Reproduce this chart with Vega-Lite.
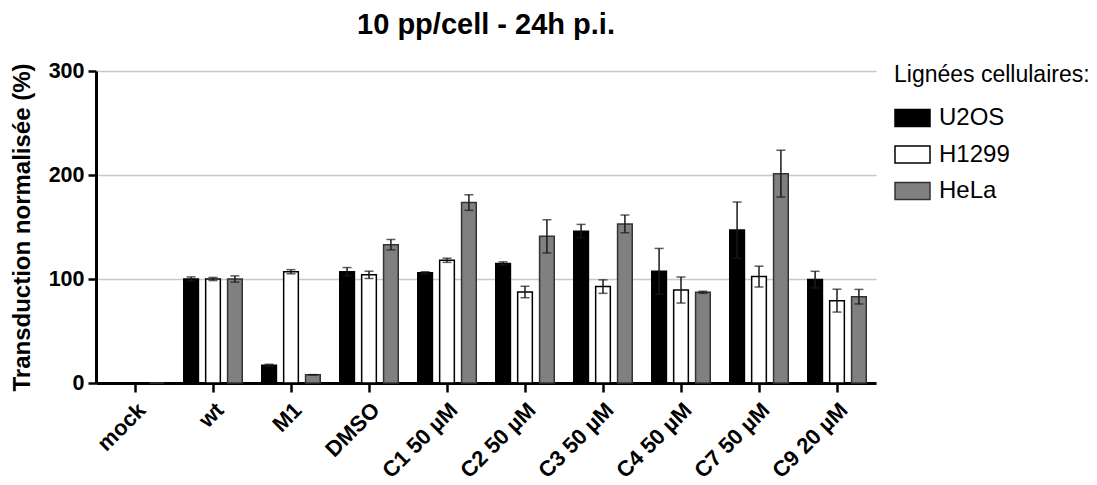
{
  "$schema": "https://vega.github.io/schema/vega-lite/v6.json",
  "autosize": {"type": "none"},
  "width": 780,
  "height": 312,
  "padding": {"left": 96, "top": 71, "right": 221, "bottom": 102},
  "background": "white",
  "title": {"text": "10 pp/cell - 24h p.i.", "font": "Liberation Sans", "fontSize": 29, "fontWeight": "bold", "color": "#000", "anchor": "middle", "offset": 20},
  "config": {"view": {"stroke": null}, "font": "Liberation Sans"},
  "data": {"values": [
    {"cond": "mock", "line": "U2OS", "value": 0, "lo": 0, "hi": 0},
    {"cond": "mock", "line": "H1299", "value": 0, "lo": 0, "hi": 0},
    {"cond": "mock", "line": "HeLa", "value": 0, "lo": 0, "hi": 0},
    {"cond": "wt", "line": "U2OS", "value": 100, "lo": 98, "hi": 102},
    {"cond": "wt", "line": "H1299", "value": 100, "lo": 98.5, "hi": 101.5},
    {"cond": "wt", "line": "HeLa", "value": 100, "lo": 97, "hi": 103},
    {"cond": "M1", "line": "U2OS", "value": 17, "lo": 16, "hi": 18},
    {"cond": "M1", "line": "H1299", "value": 107, "lo": 105, "hi": 109},
    {"cond": "M1", "line": "HeLa", "value": 8, "lo": 8, "hi": 8},
    {"cond": "DMSO", "line": "U2OS", "value": 107, "lo": 103, "hi": 111},
    {"cond": "DMSO", "line": "H1299", "value": 104, "lo": 100.5, "hi": 107.5},
    {"cond": "DMSO", "line": "HeLa", "value": 133, "lo": 128, "hi": 138},
    {"cond": "C1 50 µM", "line": "U2OS", "value": 106, "lo": 105, "hi": 107},
    {"cond": "C1 50 µM", "line": "H1299", "value": 118, "lo": 116, "hi": 120},
    {"cond": "C1 50 µM", "line": "HeLa", "value": 173.5, "lo": 166, "hi": 181},
    {"cond": "C2 50 µM", "line": "U2OS", "value": 115, "lo": 113.5, "hi": 116.5},
    {"cond": "C2 50 µM", "line": "H1299", "value": 87.5, "lo": 82, "hi": 93},
    {"cond": "C2 50 µM", "line": "HeLa", "value": 141, "lo": 125, "hi": 157},
    {"cond": "C3 50 µM", "line": "U2OS", "value": 146, "lo": 139.5, "hi": 152.5},
    {"cond": "C3 50 µM", "line": "H1299", "value": 92.7, "lo": 86.2, "hi": 99.2},
    {"cond": "C3 50 µM", "line": "HeLa", "value": 153, "lo": 144.5, "hi": 161.5},
    {"cond": "C4 50 µM", "line": "U2OS", "value": 107.4, "lo": 85.4, "hi": 129.4},
    {"cond": "C4 50 µM", "line": "H1299", "value": 89.4, "lo": 76.9, "hi": 101.9},
    {"cond": "C4 50 µM", "line": "HeLa", "value": 87.2, "lo": 86.2, "hi": 88.2},
    {"cond": "C7 50 µM", "line": "U2OS", "value": 147, "lo": 120, "hi": 174},
    {"cond": "C7 50 µM", "line": "H1299", "value": 102.3, "lo": 92.3, "hi": 112.3},
    {"cond": "C7 50 µM", "line": "HeLa", "value": 201.3, "lo": 178.8, "hi": 223.8},
    {"cond": "C9 20 µM", "line": "U2OS", "value": 99.4, "lo": 91.4, "hi": 107.4},
    {"cond": "C9 20 µM", "line": "H1299", "value": 79.2, "lo": 68.2, "hi": 90.2},
    {"cond": "C9 20 µM", "line": "HeLa", "value": 83, "lo": 76, "hi": 90}
  ]},
  "encoding": {
    "x": {"field": "cond", "type": "nominal", "sort": null,
      "scale": {"domain": ["mock", "wt", "M1", "DMSO", "C1 50 µM", "C2 50 µM", "C3 50 µM", "C4 50 µM", "C7 50 µM", "C9 20 µM"], "paddingInner": 0.25, "paddingOuter": 0.125},
      "axis": {"title": null, "labelAngle": -45, "labelFont": "Liberation Sans", "labelFontSize": 22, "labelFontWeight": "bold", "labelColor": "#000", "domainColor": "#000", "domainWidth": 3, "tickColor": "#000", "tickWidth": 2.5, "tickSize": 9, "labelPadding": 7, "labelDx": -5, "labelDy": 0, "grid": false}},
    "xOffset": {"field": "line", "type": "nominal", "sort": ["U2OS", "H1299", "HeLa"], "scale": {"paddingInner": 0.33, "paddingOuter": 0}}
  },
  "layer": [
    {
      "mark": {"type": "bar", "strokeWidth": 1.5},
      "encoding": {
        "y": {"field": "value", "type": "quantitative",
          "scale": {"domain": [0, 300], "nice": false},
          "axis": {"title": "Transduction normalisée (%)", "titleFont": "Liberation Sans", "titleFontSize": 24, "titleFontWeight": "bold", "titleColor": "#000", "titlePadding": 14, "values": [0, 100, 200, 300], "labelFont": "Liberation Sans", "labelFontSize": 21.5, "labelFontWeight": "bold", "labelColor": "#000", "labelPadding": 4, "domainColor": "#000", "domainWidth": 3, "tickColor": "#000", "tickWidth": 2.5, "tickSize": 8, "grid": true, "gridColor": "#c8c8c8", "gridWidth": 1.5}},
        "fill": {"field": "line", "type": "nominal", "sort": ["U2OS", "H1299", "HeLa"],
          "scale": {"domain": ["U2OS", "H1299", "HeLa"], "range": ["#000000", "#ffffff", "#808080"]},
          "legend": {"title": "Lignées cellulaires:", "orient": "none", "legendX": 798, "legendY": -7.5, "titleFont": "Liberation Sans", "titleFontSize": 23, "titleFontWeight": "normal", "titleColor": "#000", "titlePadding": 13, "titleLimit": 400, "labelFont": "Liberation Sans", "labelFontSize": 24, "labelColor": "#000", "labelOffset": 8, "rowPadding": 5.5, "symbolType": "M-1,-0.486H1V0.486H-1Z", "symbolSize": 1225, "symbolStrokeWidth": 1.5}},
        "stroke": {"field": "line", "type": "nominal", "sort": ["U2OS", "H1299", "HeLa"],
          "scale": {"domain": ["U2OS", "H1299", "HeLa"], "range": ["#000000", "#000000", "#333333"]},
          "legend": {"title": "Lignées cellulaires:", "orient": "none", "legendX": 798, "legendY": -7.5}}
      }
    },
    {
      "transform": [{"filter": "datum.hi > 0"}],
      "mark": {"type": "rule", "color": "#1a1a1a", "strokeWidth": 1.5},
      "encoding": {"y": {"field": "lo", "type": "quantitative"}, "y2": {"field": "hi"}}
    },
    {
      "transform": [{"filter": "datum.hi > 0"}],
      "mark": {"type": "tick", "color": "#1a1a1a", "size": 9, "thickness": 1.5, "orient": "horizontal"},
      "encoding": {"y": {"field": "hi", "type": "quantitative"}}
    },
    {
      "transform": [{"filter": "datum.hi > 0"}],
      "mark": {"type": "tick", "color": "#1a1a1a", "size": 9, "thickness": 1.5, "orient": "horizontal"},
      "encoding": {"y": {"field": "lo", "type": "quantitative"}}
    }
  ]
}
